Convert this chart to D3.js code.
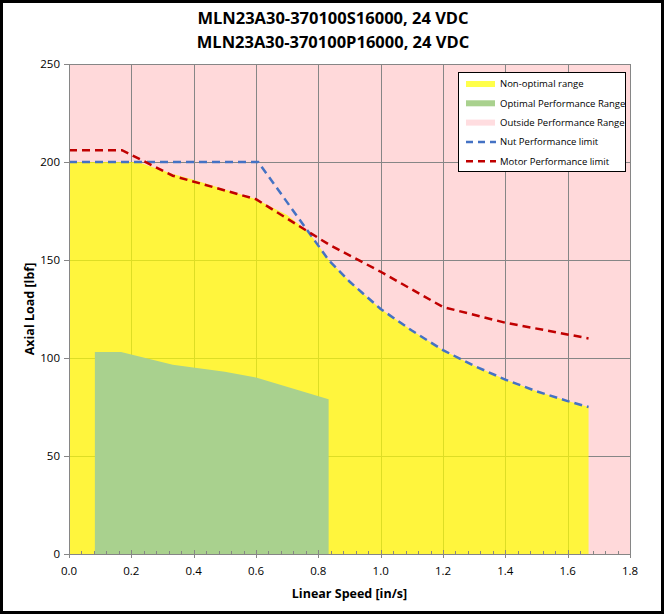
<!DOCTYPE html>
<html>
<head>
<meta charset="utf-8">
<script src="https://cdn.jsdelivr.net/npm/d3@7"></script>
<style>
  body { margin: 0; background: #fff; }
  svg { display: block; font-family: "Open Sans", "Liberation Sans", sans-serif; }
</style>
</head>
<body>
<svg id="chart" width="665" height="615"></svg>
<script>
// data
const titleLines = ["MLN23A30-370100S16000, 24 VDC", "MLN23A30-370100P16000, 24 VDC"];
const xTicks = [0, 0.2, 0.4, 0.6, 0.8, 1.0, 1.2, 1.4, 1.6, 1.8];
const yTicks = [0, 50, 100, 150, 200, 250];

// non-optimal (yellow) envelope
const nonOptSpeed = [0, 0.22, 0.33, 0.4, 0.5, 0.6, 0.7, 0.77, 0.833, 0.9, 1.0, 1.1, 1.2, 1.3, 1.4, 1.5, 1.6, 1.667];
const nonOptLoad  = [200, 200, 194, 191, 186, 181, 173, 164, 150, 139, 125, 114, 104, 96, 89, 83, 78, 75];

// optimal (green) range
const optSpeed = [0.083, 0.167, 0.333, 0.5, 0.6, 0.833];
const optLoad  = [103, 103, 96.5, 93, 90, 79];

// nut limit (blue dashed)
const nutSpeed = [0, 0.607, 0.833, 0.9, 1.0, 1.1, 1.2, 1.3, 1.4, 1.5, 1.6, 1.667];
const nutLoad  = [200, 200, 150, 139, 125, 114, 104, 96, 89, 83, 78, 75];

// motor limit (red dashed)
const motorSpeed = [0, 0.17, 0.333, 0.6, 0.833, 1.0, 1.2, 1.4, 1.667];
const motorLoad  = [206, 206, 193, 181, 158, 144, 126, 118, 110];

const legendLabels = ["Non-optimal range", "Optimal Performance Range", "Outside Performance Range",
                      "Nut Performance limit", "Motor Performance limit"];

const svg = d3.select("#chart");
const m = { left: 69, right: 630, top: 64, bottom: 554 };

const x = d3.scaleLinear().domain([0, 1.8]).range([m.left, m.right]);
const y = d3.scaleLinear().domain([0, 250]).range([m.bottom, m.top]);

const pink = "#ffd9da", gridColor = "#868686";

// outside performance range = plot background
svg.append("rect")
  .attr("x", m.left).attr("y", m.top)
  .attr("width", m.right - m.left).attr("height", m.bottom - m.top)
  .attr("fill", pink);

// gridlines
const grid = svg.append("g").attr("stroke", gridColor).attr("stroke-width", 1);
xTicks.slice(1).forEach(t => {
  grid.append("line").attr("x1", Math.round(x(t)) + 0.5).attr("x2", Math.round(x(t)) + 0.5)
    .attr("y1", m.top).attr("y2", m.bottom);
});
yTicks.slice(1).forEach(t => {
  grid.append("line").attr("x1", m.left).attr("x2", m.right)
    .attr("y1", Math.round(y(t)) + 0.5).attr("y2", Math.round(y(t)) + 0.5);
});

const zip = (xs, ys) => xs.map((v, i) => [v, ys[i]]);

const area = d3.area()
  .x(d => x(d[0]))
  .y0(y(0))
  .y1(d => y(d[1]));

svg.append("path")
  .datum(zip(nonOptSpeed, nonOptLoad))
  .attr("d", area)
  .attr("fill", "#ffff00")
  .attr("fill-opacity", 0.72);

svg.append("path")
  .datum(zip(optSpeed, optLoad))
  .attr("d", area)
  .attr("fill", "#a9d18e");

const line = d3.line().x(d => x(d[0])).y(d => y(d[1]));

svg.append("path")
  .datum(zip(nutSpeed, nutLoad))
  .attr("d", line)
  .attr("fill", "none")
  .attr("stroke", "#4472c4")
  .attr("stroke-width", 2.5)
  .attr("stroke-dasharray", "8,5");

svg.append("path")
  .datum(zip(motorSpeed, motorLoad))
  .attr("d", line)
  .attr("fill", "none")
  .attr("stroke", "#c00000")
  .attr("stroke-width", 2.5)
  .attr("stroke-dasharray", "8,5");

// axes
const axisG = svg.append("g").attr("stroke", gridColor).attr("stroke-width", 1);
axisG.append("line").attr("x1", m.left + 0.5).attr("x2", m.left + 0.5).attr("y1", m.top).attr("y2", m.bottom);
axisG.append("line").attr("x1", m.left - 5).attr("x2", m.right).attr("y1", m.bottom + 0.5).attr("y2", m.bottom + 0.5);
yTicks.forEach(t => {
  axisG.append("line").attr("x1", m.left - 5).attr("x2", m.left)
    .attr("y1", Math.round(y(t)) + 0.5).attr("y2", Math.round(y(t)) + 0.5);
});
d3.range(0, 46).forEach(i => {
  const t = i * 0.04;
  const major = i % 5 === 0;
  const px = Math.round(x(t)) + 0.5;
  axisG.append("line").attr("x1", px).attr("x2", px)
    .attr("y1", major ? m.bottom - 4 : m.bottom - 3).attr("y2", major ? m.bottom + 4 : m.bottom);
});

svg.append("g").selectAll("text").data(yTicks).join("text")
  .attr("x", m.left - 9).attr("y", d => y(d))
  .attr("dy", "0.35em").attr("text-anchor", "end")
  .attr("font-size", 11.5).attr("fill", "#000")
  .text(d => d);

svg.append("g").selectAll("text").data(xTicks).join("text")
  .attr("x", d => x(d)).attr("y", m.bottom + 17)
  .attr("dy", "0.35em").attr("text-anchor", "middle")
  .attr("font-size", 11.5).attr("fill", "#000")
  .text(d => d.toFixed(1));

svg.append("text")
  .attr("x", (m.left + m.right) / 2).attr("y", 594)
  .attr("dy", "0.35em").attr("text-anchor", "middle")
  .attr("font-size", 12.5).attr("font-weight", "bold")
  .text("Linear Speed [in/s]");

svg.append("text")
  .attr("transform", `translate(30, ${(m.top + m.bottom) / 2}) rotate(-90)`)
  .attr("dy", "0.35em").attr("text-anchor", "middle")
  .attr("font-size", 12.5).attr("font-weight", "bold")
  .text("Axial Load [lbf]");

// title
svg.append("g").selectAll("text").data(titleLines).join("text")
  .attr("x", 333).attr("y", (d, i) => 18 + i * 24)
  .attr("dy", "0.35em").attr("text-anchor", "middle")
  .attr("font-size", 16.5).attr("font-weight", "bold")
  .text(d => d);

// legend
const legend = svg.append("g").attr("transform", "translate(458, 72)");
legend.append("rect")
  .attr("x", 0.5).attr("y", 0.5).attr("width", 167).attr("height", 99)
  .attr("fill", "#fff").attr("stroke", "#000").attr("stroke-width", 1);

const swatchFill = ["#ffff4a", "#a9d18e", "#ffdde0"];
legendLabels.forEach((lab, i) => {
  const ly = 12 + i * 19.3;
  if (i < 3) {
    legend.append("rect").attr("x", 8).attr("y", ly - 3).attr("width", 29).attr("height", 6)
      .attr("fill", swatchFill[i]);
  } else {
    legend.append("line").attr("x1", 8).attr("x2", 38).attr("y1", ly).attr("y2", ly)
      .attr("stroke", i === 3 ? "#4472c4" : "#c00000")
      .attr("stroke-width", 2.5).attr("stroke-dasharray", "7,5");
  }
  legend.append("text").attr("x", 42).attr("y", ly).attr("dy", "0.35em")
    .attr("font-size", 9.5).attr("fill", "#000").text(lab);
});

// outer frame
svg.append("rect")
  .attr("x", 1.5).attr("y", 1.5).attr("width", 661).attr("height", 611)
  .attr("fill", "none").attr("stroke", "#000").attr("stroke-width", 3);
</script>
</body>
</html>
